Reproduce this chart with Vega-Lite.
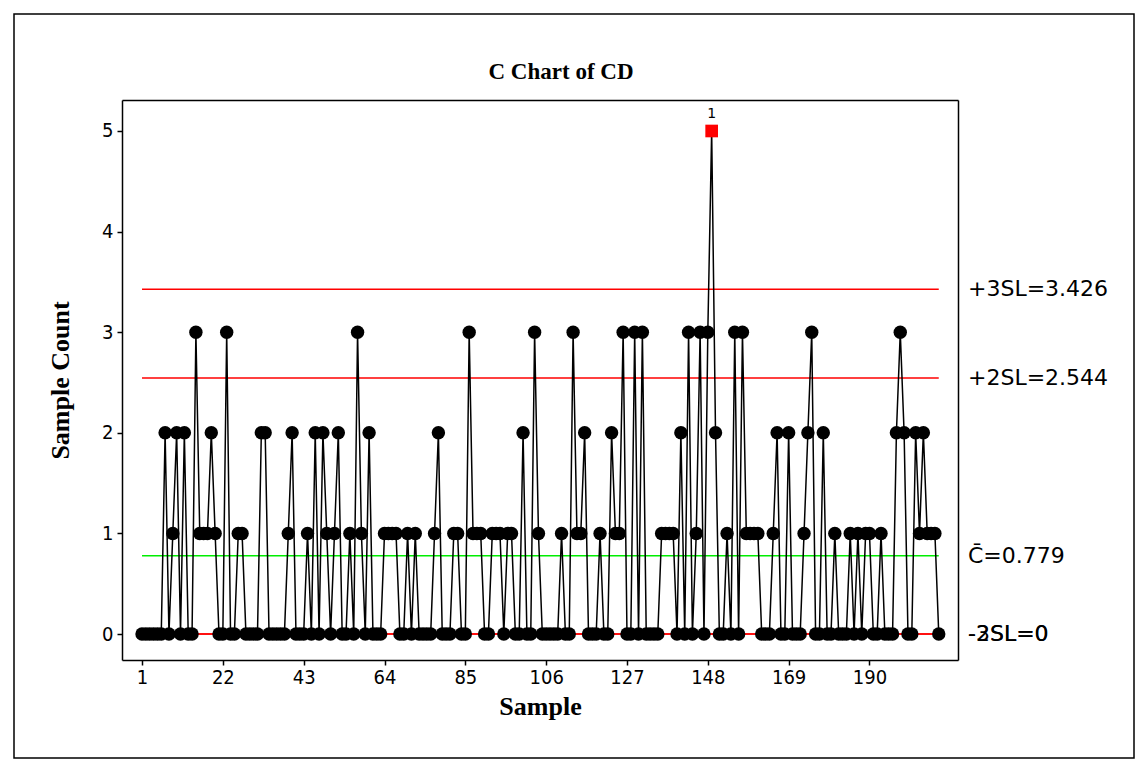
{
  "$schema": "https://vega.github.io/schema/vega-lite/v6.json",
  "width": 1120,
  "height": 744,
  "autosize": "none",
  "padding": 14,
  "background": "white",
  "config": {
    "view": {"stroke": "black", "strokeWidth": 1.5},
    "axis": {"grid": false, "domainColor": "black", "domainWidth": 1.5, "tickColor": "black", "labelColor": "black", "titleColor": "black"}
  },
  "title": {
    "text": "C Chart of CD",
    "font": "Liberation Serif",
    "fontWeight": "bold",
    "fontSize": 23,
    "color": "black",
    "anchor": "middle",
    "frame": "group",
    "offset": -70,
    "dx": -13
  },
  "datasets": {
    "samples": [
      {"s":1,"c":0},{"s":2,"c":0},{"s":3,"c":0},{"s":4,"c":0},{"s":5,"c":0},{"s":6,"c":0},{"s":7,"c":2},{"s":8,"c":0},{"s":9,"c":1},{"s":10,"c":2},
      {"s":11,"c":0},{"s":12,"c":2},{"s":13,"c":0},{"s":14,"c":0},{"s":15,"c":3},{"s":16,"c":1},{"s":17,"c":1},{"s":18,"c":1},{"s":19,"c":2},{"s":20,"c":1},
      {"s":21,"c":0},{"s":22,"c":0},{"s":23,"c":3},{"s":24,"c":0},{"s":25,"c":0},{"s":26,"c":1},{"s":27,"c":1},{"s":28,"c":0},{"s":29,"c":0},{"s":30,"c":0},
      {"s":31,"c":0},{"s":32,"c":2},{"s":33,"c":2},{"s":34,"c":0},{"s":35,"c":0},{"s":36,"c":0},{"s":37,"c":0},{"s":38,"c":0},{"s":39,"c":1},{"s":40,"c":2},
      {"s":41,"c":0},{"s":42,"c":0},{"s":43,"c":0},{"s":44,"c":1},{"s":45,"c":0},{"s":46,"c":2},{"s":47,"c":0},{"s":48,"c":2},{"s":49,"c":1},{"s":50,"c":0},
      {"s":51,"c":1},{"s":52,"c":2},{"s":53,"c":0},{"s":54,"c":0},{"s":55,"c":1},{"s":56,"c":0},{"s":57,"c":3},{"s":58,"c":1},{"s":59,"c":0},{"s":60,"c":2},
      {"s":61,"c":0},{"s":62,"c":0},{"s":63,"c":0},{"s":64,"c":1},{"s":65,"c":1},{"s":66,"c":1},{"s":67,"c":1},{"s":68,"c":0},{"s":69,"c":0},{"s":70,"c":1},
      {"s":71,"c":0},{"s":72,"c":1},{"s":73,"c":0},{"s":74,"c":0},{"s":75,"c":0},{"s":76,"c":0},{"s":77,"c":1},{"s":78,"c":2},{"s":79,"c":0},{"s":80,"c":0},
      {"s":81,"c":0},{"s":82,"c":1},{"s":83,"c":1},{"s":84,"c":0},{"s":85,"c":0},{"s":86,"c":3},{"s":87,"c":1},{"s":88,"c":1},{"s":89,"c":1},{"s":90,"c":0},
      {"s":91,"c":0},{"s":92,"c":1},{"s":93,"c":1},{"s":94,"c":1},{"s":95,"c":0},{"s":96,"c":1},{"s":97,"c":1},{"s":98,"c":0},{"s":99,"c":0},{"s":100,"c":2},
      {"s":101,"c":0},{"s":102,"c":0},{"s":103,"c":3},{"s":104,"c":1},{"s":105,"c":0},{"s":106,"c":0},{"s":107,"c":0},{"s":108,"c":0},{"s":109,"c":0},{"s":110,"c":1},
      {"s":111,"c":0},{"s":112,"c":0},{"s":113,"c":3},{"s":114,"c":1},{"s":115,"c":1},{"s":116,"c":2},{"s":117,"c":0},{"s":118,"c":0},{"s":119,"c":0},{"s":120,"c":1},
      {"s":121,"c":0},{"s":122,"c":0},{"s":123,"c":2},{"s":124,"c":1},{"s":125,"c":1},{"s":126,"c":3},{"s":127,"c":0},{"s":128,"c":0},{"s":129,"c":3},{"s":130,"c":0},
      {"s":131,"c":3},{"s":132,"c":0},{"s":133,"c":0},{"s":134,"c":0},{"s":135,"c":0},{"s":136,"c":1},{"s":137,"c":1},{"s":138,"c":1},{"s":139,"c":1},{"s":140,"c":0},
      {"s":141,"c":2},{"s":142,"c":0},{"s":143,"c":3},{"s":144,"c":0},{"s":145,"c":1},{"s":146,"c":3},{"s":147,"c":0},{"s":148,"c":3},{"s":149,"c":5,"test":"1"},{"s":150,"c":2},
      {"s":151,"c":0},{"s":152,"c":0},{"s":153,"c":1},{"s":154,"c":0},{"s":155,"c":3},{"s":156,"c":0},{"s":157,"c":3},{"s":158,"c":1},{"s":159,"c":1},{"s":160,"c":1},
      {"s":161,"c":1},{"s":162,"c":0},{"s":163,"c":0},{"s":164,"c":0},{"s":165,"c":1},{"s":166,"c":2},{"s":167,"c":0},{"s":168,"c":0},{"s":169,"c":2},{"s":170,"c":0},
      {"s":171,"c":0},{"s":172,"c":0},{"s":173,"c":1},{"s":174,"c":2},{"s":175,"c":3},{"s":176,"c":0},{"s":177,"c":0},{"s":178,"c":2},{"s":179,"c":0},{"s":180,"c":0},
      {"s":181,"c":1},{"s":182,"c":0},{"s":183,"c":0},{"s":184,"c":0},{"s":185,"c":1},{"s":186,"c":0},{"s":187,"c":1},{"s":188,"c":0},{"s":189,"c":1},{"s":190,"c":1},
      {"s":191,"c":0},{"s":192,"c":0},{"s":193,"c":1},{"s":194,"c":0},{"s":195,"c":0},{"s":196,"c":0},{"s":197,"c":2},{"s":198,"c":3},{"s":199,"c":2},{"s":200,"c":0},
      {"s":201,"c":0},{"s":202,"c":2},{"s":203,"c":1},{"s":204,"c":2},{"s":205,"c":1},{"s":206,"c":1},{"s":207,"c":1},{"s":208,"c":0}
    ],
    "limits": [
      {"label": "+3SL=3.426", "value": 3.426, "kind": "limit"},
      {"label": "+2SL=2.544", "value": 2.544, "kind": "limit"},
      {"label": "C\u0304=0.779", "value": 0.779, "kind": "center"},
      {"label": "-3SL=0", "value": 0, "kind": "limit"},
      {"label": "-2SL=0", "value": 0, "kind": "limit"}
    ]
  },
  "resolve": {"axis": {"x": "independent", "y": "independent"}},
  "layer": [
    {
      "data": {"name": "limits"},
      "mark": {"type": "rule", "strokeWidth": 1.5},
      "encoding": {
        "x": {
          "datum": 1,
          "type": "quantitative",
          "scale": {"domain": [-4.2, 213], "range": [108, 944], "nice": false, "zero": false},
          "axis": {"orient": "top", "offset": -86, "labels": false, "ticks": false, "title": null, "domain": true}
        },
        "x2": {"datum": 208},
        "y": {
          "field": "value",
          "type": "quantitative",
          "scale": {"domain": [-0.258, 5.308], "range": [646, 86], "nice": false, "zero": false},
          "axis": {"orient": "right", "offset": -176, "labels": false, "ticks": false, "title": null, "domain": true}
        },
        "color": {
          "field": "kind",
          "type": "nominal",
          "scale": {"domain": ["limit", "center"], "range": ["#ff0000", "#00ee00"]},
          "legend": null
        }
      }
    },
    {
      "data": {"name": "samples"},
      "mark": {"type": "line", "color": "black", "strokeWidth": 1.5},
      "encoding": {
        "x": {
          "field": "s",
          "type": "quantitative",
          "axis": {
            "orient": "bottom",
            "offset": -98,
            "values": [1, 22, 43, 64, 85, 106, 127, 148, 169, 190],
            "tickSize": 5,
            "tickWidth": 1.5,
            "labelFont": "DejaVu Sans Condensed, Liberation Sans Narrow, Liberation Sans",
            "labelFontSize": 20,
            "labelPadding": 2,
            "title": "Sample",
            "titleFont": "Liberation Serif",
            "titleFontWeight": "bold",
            "titleFontSize": 26,
            "titlePadding": 6
          }
        },
        "y": {
          "field": "c",
          "type": "quantitative",
          "axis": {
            "orient": "left",
            "offset": -108,
            "values": [0, 1, 2, 3, 4, 5],
            "tickSize": 5,
            "tickWidth": 1.5,
            "labelFont": "DejaVu Sans Condensed, Liberation Sans Narrow, Liberation Sans",
            "labelFontSize": 20,
            "labelPadding": 4,
            "title": "Sample Count",
            "titleFont": "Liberation Serif",
            "titleFontWeight": "bold",
            "titleFontSize": 26,
            "titlePadding": 28
          }
        }
      }
    },
    {
      "data": {"name": "samples"},
      "transform": [{"filter": "!datum.test"}],
      "mark": {"type": "circle", "color": "black", "opacity": 1, "size": 180},
      "encoding": {
        "x": {"field": "s", "type": "quantitative", "axis": null},
        "y": {"field": "c", "type": "quantitative", "axis": null}
      }
    },
    {
      "data": {"name": "samples"},
      "transform": [{"filter": "datum.test"}],
      "mark": {"type": "square", "color": "#ff0000", "opacity": 1, "size": 160},
      "encoding": {
        "x": {"field": "s", "type": "quantitative", "axis": null},
        "y": {"field": "c", "type": "quantitative", "axis": null}
      }
    },
    {
      "data": {"name": "samples"},
      "transform": [{"filter": "datum.test"}],
      "mark": {"type": "text", "dy": -17, "font": "DejaVu Sans", "fontSize": 14, "color": "black"},
      "encoding": {
        "x": {"field": "s", "type": "quantitative", "axis": null},
        "y": {"field": "c", "type": "quantitative", "axis": null},
        "text": {"field": "test"}
      }
    },
    {
      "data": {"name": "limits"},
      "mark": {"type": "text", "align": "left", "baseline": "middle", "font": "DejaVu Sans", "fontSize": 22, "color": "black"},
      "encoding": {
        "x": {"datum": 215.6, "type": "quantitative", "axis": null},
        "y": {"field": "value", "type": "quantitative", "axis": null},
        "text": {"field": "label"}
      }
    }
  ]
}
